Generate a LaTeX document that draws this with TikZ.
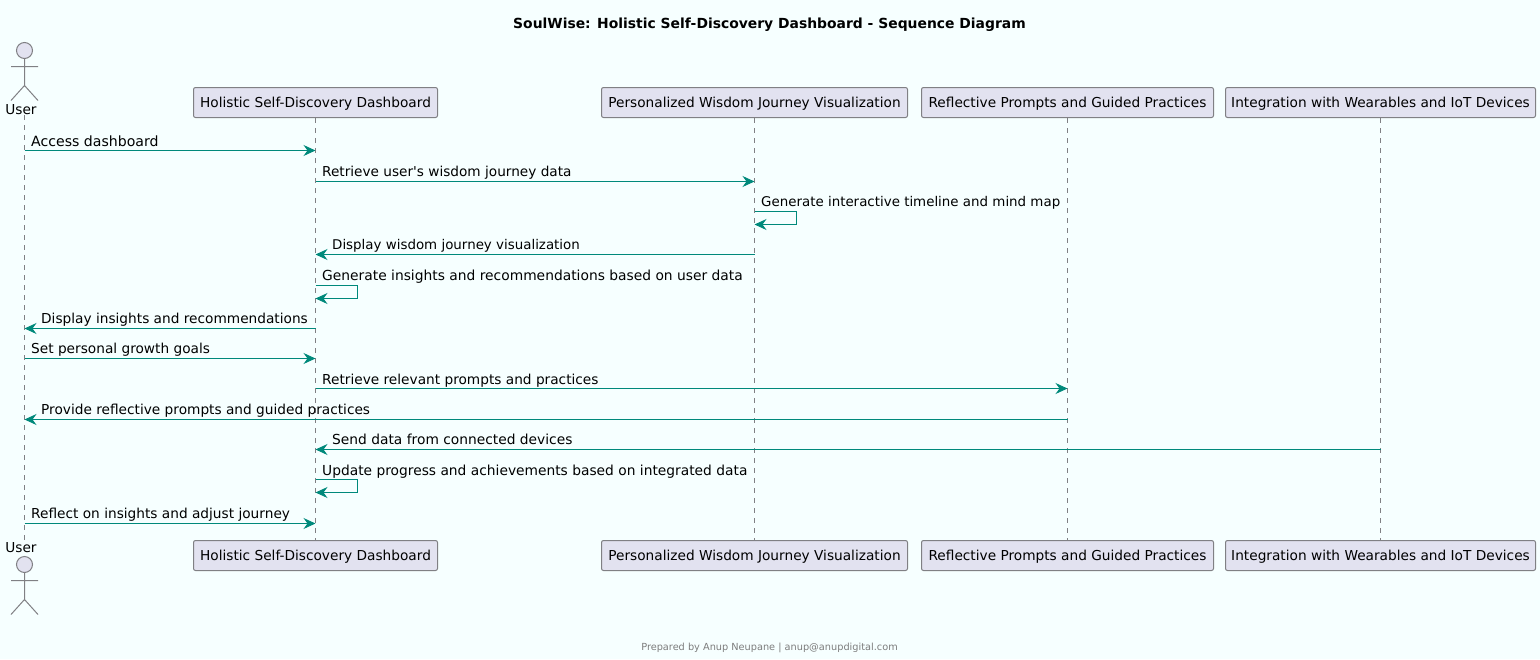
\documentclass[tikz,border=0pt]{standalone}
\usepackage{fontspec}
\setmainfont{DejaVu Sans}
\usetikzlibrary{arrows.meta}
\definecolor{pageTint}{RGB}{246,255,255}
\definecolor{boxFill}{RGB}{226,226,240}
\definecolor{edgeGray}{RGB}{128,128,132}
\definecolor{msgTeal}{RGB}{0,137,123}
\definecolor{footGray}{RGB}{125,125,125}
\tikzset{
  party box/.style={draw=edgeGray,fill=boxFill,rounded corners=2pt,line width=1pt,inner sep=0pt,minimum height=30pt,text height=12pt,text depth=2pt,font=\fontsize{13.7}{16}\selectfont,text=black},
  actor part/.style={draw=edgeGray,line width=1pt},
  actor name/.style={inner sep=0pt,font=\fontsize{13.7}{16}\selectfont,text=black},
  life line/.style={draw=edgeGray,line width=1pt,dash pattern=on 5pt off 5pt},
  msg arrow/.style={-{Stealth[length=12pt,width=11pt,inset=4pt,fill=msgTeal]},draw=msgTeal,line width=1pt},
  msg label/.style={anchor=base west,inner sep=0pt,font=\fontsize{13.7}{16}\selectfont,text=black}
}
\begin{document}
\begin{tikzpicture}[x=1pt,y=-1pt]
    \fill[pageTint] (0,0) rectangle (1540,659);
    \useasboundingbox (0,0) rectangle (1540,659);
    \node[inner sep=0pt,font=\bfseries\fontsize{13.9}{16}\selectfont] (diagramTitle) at (769.5,24.5) {SoulWise: Holistic Self-Discovery Dashboard - Sequence Diagram};
    \node[inner sep=0pt,text=footGray,font=\fontsize{9.75}{12}\selectfont] (diagramFooter) at (769.5,647.5) {Prepared by Anup Neupane | anup@anupdigital.com};
    % top row
    \node[circle,actor part,fill=boxFill,minimum size=16pt,inner sep=0pt] (userHead) at (24.5,50.5) {};
    \node[actor name] (userTop) at (21,110) {User};
    \node[party box,minimum width=244pt] (boardTop) at (315.5,102.5) {Holistic Self-Discovery Dashboard};
    \node[party box,minimum width=306pt] (journeyTop) at (754.5,102.5) {Personalized Wisdom Journey Visualization};
    \node[party box,minimum width=292pt] (promptsTop) at (1067.5,102.5) {Reflective Prompts and Guided Practices};
    \node[party box,minimum width=310pt] (wearablesTop) at (1380.5,102.5) {Integration with Wearables and IoT Devices};
    % bottom row
    \node[actor name] (userBottom) at (21,548) {User};
    \node[circle,actor part,fill=boxFill,minimum size=16pt,inner sep=0pt] (userFoot) at (24.5,564.5) {};
    \node[party box,minimum width=244pt] (boardBottom) at (315.5,555.5) {Holistic Self-Discovery Dashboard};
    \node[party box,minimum width=306pt] (journeyBottom) at (754.5,555.5) {Personalized Wisdom Journey Visualization};
    \node[party box,minimum width=292pt] (promptsBottom) at (1067.5,555.5) {Reflective Prompts and Guided Practices};
    \node[party box,minimum width=310pt] (wearablesBottom) at (1380.5,555.5) {Integration with Wearables and IoT Devices};
    % stick figures
    \draw[actor part] (userHead.south) -- (24.5,85.5) (11,66.5) -- (38,66.5) (11,100.5) -- (24.5,85.5) -- (38,100.5);
    \draw[actor part] (userFoot.south) -- (24.5,599.5) (11,580.5) -- (38,580.5) (11,614.5) -- (24.5,599.5) -- (38,614.5);
    % lifelines
    \draw[life line] (userHead |- userTop.south) -- (userHead |- userBottom.north);
    \draw[life line] (boardTop.south) -- (boardBottom.north);
    \draw[life line] (journeyTop.south) -- (journeyBottom.north);
    \draw[life line] (promptsTop.south) -- (promptsBottom.north);
    \draw[life line] (wearablesTop.south) -- (wearablesBottom.north);
    % messages
    \coordinate (rowA) at (0,150.5);
    \coordinate (rowB) at (0,181.5);
    \coordinate (rowC) at (0,211.5);
    \coordinate (rowCback) at (0,224.5);
    \coordinate (rowD) at (0,254.5);
    \coordinate (rowE) at (0,285.5);
    \coordinate (rowEback) at (0,298.5);
    \coordinate (rowF) at (0,328.5);
    \coordinate (rowG) at (0,358.5);
    \coordinate (rowH) at (0,388.5);
    \coordinate (rowI) at (0,419.5);
    \coordinate (rowJ) at (0,449.5);
    \coordinate (rowK) at (0,479.5);
    \coordinate (rowKback) at (0,492.5);
    \coordinate (rowL) at (0,523.5);
    \draw[msg arrow] (userHead |- rowA) -- (boardTop |- rowA);
    \draw[msg arrow] (boardTop |- rowB) -- (journeyTop |- rowB);
    \draw[msg arrow] (journeyTop |- rowC) -- ++(42,0) |- (journeyTop |- rowCback);
    \draw[msg arrow] (journeyTop |- rowD) -- (boardTop |- rowD);
    \draw[msg arrow] (boardTop |- rowE) -- ++(42,0) |- (boardTop |- rowEback);
    \draw[msg arrow] (boardTop |- rowF) -- (userHead |- rowF);
    \draw[msg arrow] (userHead |- rowG) -- (boardTop |- rowG);
    \draw[msg arrow] (boardTop |- rowH) -- (promptsTop |- rowH);
    \draw[msg arrow] (promptsTop |- rowI) -- (userHead |- rowI);
    \draw[msg arrow] (wearablesTop |- rowJ) -- (boardTop |- rowJ);
    \draw[msg arrow] (boardTop |- rowK) -- ++(42,0) |- (boardTop |- rowKback);
    \draw[msg arrow] (userHead |- rowL) -- (boardTop |- rowL);
    % message texts
    \node[msg label,font=\fontsize{14.1}{16}\selectfont] (textA) at (31,146) {Access dashboard};
    \node[msg label,font=\fontsize{13.65}{16}\selectfont] (textB) at (322,176) {Retrieve user\textquotesingle s wisdom journey data};
    \node[msg label,font=\fontsize{13.4}{16}\selectfont] (textC) at (761,206) {Generate interactive timeline and mind map};
    \node[msg label,font=\fontsize{13.4}{16}\selectfont] (textD) at (332,249) {Display wisdom journey visualization};
    \node[msg label,font=\fontsize{13.83}{16}\selectfont] (textE) at (322,280) {Generate insights and recommendations based on user data};
    \node[msg label] (textF) at (41,323) {Display insights and recommendations};
    \node[msg label] (textG) at (31,353) {Set personal growth goals};
    \node[msg label] (textH) at (322,384) {Retrieve relevant prompts and practices};
    \node[msg label] (textI) at (41,414) {Provide reflective prompts and guided practices};
    \node[msg label,font=\fontsize{13.8}{16}\selectfont] (textJ) at (332,444) {Send data from connected devices};
    \node[msg label,font=\fontsize{13.8}{16}\selectfont] (textK) at (322,475) {Update progress and achievements based on integrated data};
    \node[msg label] (textL) at (31,518) {Reflect on insights and adjust journey};
  \end{tikzpicture}
\end{document}
